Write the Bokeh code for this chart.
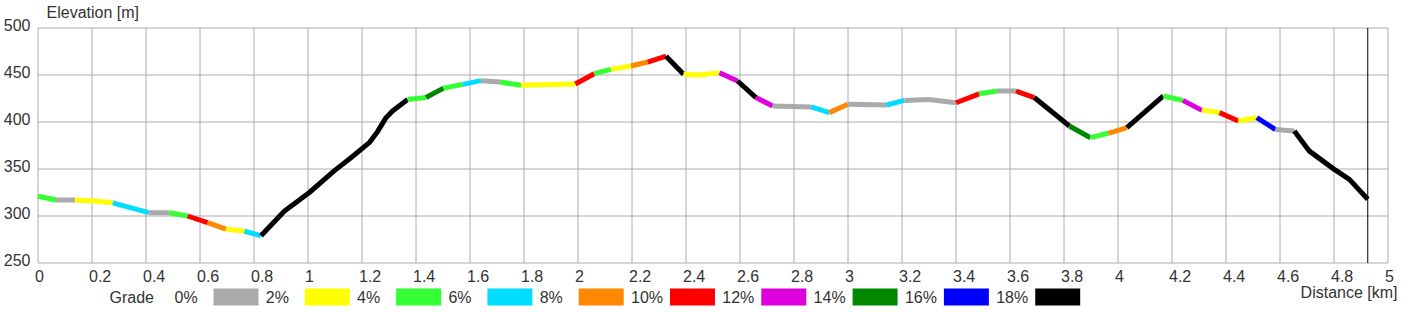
from bokeh.plotting import figure
from bokeh.models import Range1d
from bokeh.core.properties import value
from bokeh.embed import file_html
from bokeh.resources import INLINE

# ---------------- data ----------------
dist = [0.000, 0.067, 0.137, 0.210, 0.277, 0.410, 0.486, 0.554, 0.628, 0.696,
        0.764, 0.826, 0.912, 1.005, 1.097, 1.159, 1.227, 1.258, 1.289, 1.313,
        1.369, 1.437, 1.502, 1.573, 1.641, 1.712, 1.789, 1.900, 1.990, 2.060,
        2.122, 2.196, 2.258, 2.326, 2.391, 2.450, 2.524, 2.591, 2.659, 2.721,
        2.863, 2.931, 2.999, 3.141, 3.209, 3.300, 3.400, 3.486, 3.552, 3.622,
        3.690, 3.820, 3.898, 3.964, 4.033, 4.168, 4.240, 4.311, 4.376, 4.446,
        4.514, 4.583, 4.653, 4.709, 4.801, 4.857, 4.925]
elev = [321, 317, 317, 316, 314, 303.5, 303.5, 300, 293, 286,
        284, 279, 305, 325, 348, 362, 378, 390, 404.6, 411.7,
        424, 426, 436, 440, 444, 442.5, 439, 440, 440.5, 451.4,
        456, 459.6, 463.8, 470, 450.7, 450, 452.5, 443.6, 426, 417,
        416, 410, 418.8, 418, 423, 424, 420.5, 430, 433, 433,
        426, 395.7, 383.3, 388, 394, 427.7, 423, 412.4, 410, 401,
        404.6, 392, 390.4, 369, 349.6, 339, 317.8]
# grade class of each segment (index into grade_labels / grade_colors)
seg_grade = [2, 0, 1, 1, 3, 0, 2, 5, 4, 1,
             3, 9, 9, 9, 9, 9, 9, 9, 9, 9,
             2, 7, 2, 3, 0, 2, 1, 1, 5, 2,
             1, 4, 5, 9, 1, 1, 6, 9, 6, 0,
             3, 4, 0, 3, 0, 0, 5, 2, 0, 5,
             9, 7, 2, 4, 9, 2, 6, 1, 5, 1,
             8, 0, 9, 9, 9, 9]
grade_labels = ["0%", "2%", "4%", "6%", "8%", "10%", "12%", "14%", "16%", "18%"]
grade_colors = ["#aaaaaa", "#ffff00", "#33ff33", "#00ddff", "#ff8800",
                "#ff0000", "#dd00dd", "#008800", "#0000ff", "#000000"]
x_ticks = [round(0.2 * i, 1) for i in range(26)]
x_tick_labels = ["0", "0.2", "0.4", "0.6", "0.8", "1", "1.2", "1.4", "1.6", "1.8",
                 "2", "2.2", "2.4", "2.6", "2.8", "3", "3.2", "3.4", "3.6", "3.8",
                 "4", "4.2", "4.4", "4.6", "4.8", "5"]
y_ticks = [250, 300, 350, 400, 450, 500]
y_tick_labels = ["250", "300", "350", "400", "450", "500"]
route_end = 4.925

# ---------------- layout helpers (pixel -> data) ----------------
W, H = 1403, 312
X0PX, KMPX = 37.5, 270.0
Y0PX, MPX = 262.5, 0.94
TSHIFT = -6  # vertical text correction (px)


def X(px):
    return (px - X0PX) / KMPX


def Y(py):
    return 250 + (Y0PX - py) / MPX


def TY(py):
    return Y(py + TSHIFT)


p = figure(width=W, height=H, output_backend="svg", toolbar_location=None,
           x_range=Range1d(X(0), X(W)), y_range=Range1d(Y(H), Y(0)),
           x_axis_location=None, y_axis_location=None,
           min_border=0, outline_line_color=None,
           background_fill_color="white", border_fill_color="white")
p.grid.visible = False

FONT = value("Liberation Sans")
FS = value("16px")
TC = "#333333"
GRID = "#acacac"

# grid lines (frame)
p.segment(x0=x_ticks, y0=[y_ticks[0]] * len(x_ticks), x1=x_ticks, y1=[y_ticks[-1]] * len(x_ticks),
          line_color=GRID, line_width=1)
p.segment(x0=[x_ticks[0]] * len(y_ticks), y0=y_ticks, x1=[x_ticks[-1]] * len(y_ticks), y1=y_ticks,
          line_color=GRID, line_width=1)

# elevation profile coloured by grade
xs, ys, cols = [], [], []
i = 0
n = len(seg_grade)
while i < n:
    g = seg_grade[i]
    j = i
    while j + 1 < n and seg_grade[j + 1] == g:
        j += 1
    xs.append(dist[i:j + 2])
    ys.append(elev[i:j + 2])
    cols.append(grade_colors[g])
    i = j + 1
p.multi_line(xs=xs, ys=ys, line_color=cols, line_width=5,
             line_cap="butt", line_join="round")

# route end marker
p.segment(x0=[route_end], y0=[y_ticks[0]], x1=[route_end], y1=[y_ticks[-1]],
          line_color="black", line_width=1)

# tick labels
p.text(x=x_ticks, y=[TY(281)] * len(x_ticks), text=x_tick_labels, x_offset=-3,
       text_font=FONT, text_font_size=FS, text_color=TC,
       text_align="left", text_baseline="alphabetic")
p.text(x=[X(30)] * len(y_ticks), y=y_ticks, text=y_tick_labels, y_offset=3 + TSHIFT,
       text_font=FONT, text_font_size=FS, text_color=TC,
       text_align="right", text_baseline="alphabetic")

# axis titles
p.text(x=[X(46)], y=[TY(18)], text=["Elevation [m]"],
       text_font=FONT, text_font_size=FS, text_color=TC,
       text_align="left", text_baseline="alphabetic")
p.text(x=[X(1397)], y=[TY(298)], text=["Distance [km]"],
       text_font=FONT, text_font_size=FS, text_color=TC,
       text_align="right", text_baseline="alphabetic")

# grade legend
p.text(x=[X(109)], y=[TY(303)], text=["Grade"],
       text_font=FONT, text_font_size=FS, text_color=TC,
       text_align="left", text_baseline="alphabetic")
box_left = [213 + 91.3 * k for k in range(len(grade_labels))]
p.quad(left=[X(b) for b in box_left], right=[X(b + 45) for b in box_left],
       top=[Y(288)] * len(box_left), bottom=[Y(305)] * len(box_left),
       fill_color=grade_colors, line_color=None)
p.text(x=[X(b - 39) for b in box_left], y=[TY(303)] * len(box_left), text=grade_labels,
       text_font=FONT, text_font_size=FS, text_color=TC,
       text_align="left", text_baseline="alphabetic")

open("out.html", "w").write(file_html(p, INLINE))
